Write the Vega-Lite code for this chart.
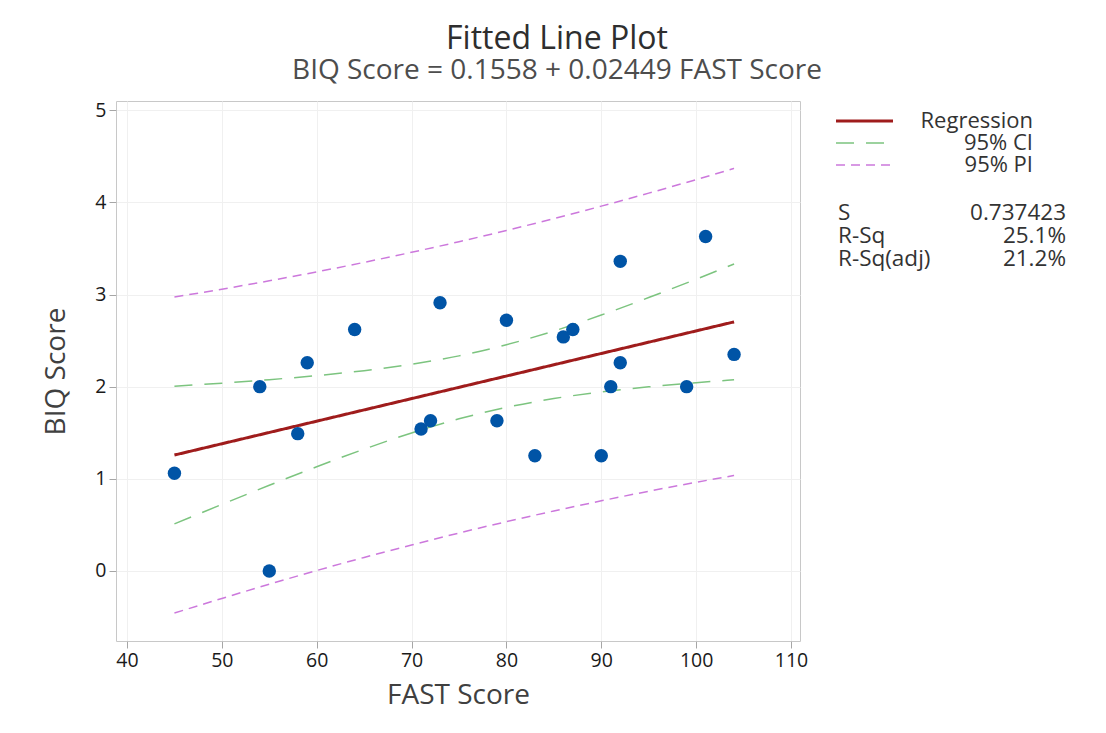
{
  "$schema": "https://vega.github.io/schema/vega-lite/v6.json",
  "width": 684,
  "height": 540,
  "autosize": {"type": "none"},
  "padding": {"left": 116, "top": 101, "right": 306, "bottom": 92},
  "background": "white",
  "title": {
    "text": "Fitted Line Plot",
    "subtitle": "BIQ Score = 0.1558 + 0.02449 FAST Score",
    "anchor": "middle",
    "dx": 99,
    "offset": 14,
    "font": "Open Sans",
    "fontSize": 32,
    "fontWeight": 500,
    "color": "#2e2e2e",
    "subtitleFont": "Open Sans",
    "subtitleFontSize": 28,
    "subtitleColor": "#4d4d4d",
    "subtitlePadding": 1
  },
  "config": {
    "view": {"stroke": "#c8c8c8", "strokeWidth": 1},
    "font": "Open Sans",
    "axis": {
      "domain": false,
      "grid": true,
      "gridColor": "#f0f0f0",
      "tickColor": "#a6a6a6",
      "tickSize": 7,
      "labelFont": "Open Sans",
      "labelFontSize": 19.5,
      "labelColor": "#1a1a1a",
      "labelPadding": 3,
      "titleFont": "Open Sans",
      "titleFontSize": 28,
      "titleFontWeight": "normal",
      "titleColor": "#404040"
    }
  },
  "datasets": {
    "bands": [
      {"series": "95% CI", "band": "upper", "x": 45, "y": 2.005},
      {"series": "95% CI", "band": "upper", "x": 50, "y": 2.038},
      {"series": "95% CI", "band": "upper", "x": 55, "y": 2.076},
      {"series": "95% CI", "band": "upper", "x": 60, "y": 2.12},
      {"series": "95% CI", "band": "upper", "x": 65, "y": 2.174},
      {"series": "95% CI", "band": "upper", "x": 70, "y": 2.243},
      {"series": "95% CI", "band": "upper", "x": 75, "y": 2.334},
      {"series": "95% CI", "band": "upper", "x": 80, "y": 2.455},
      {"series": "95% CI", "band": "upper", "x": 85, "y": 2.604},
      {"series": "95% CI", "band": "upper", "x": 90, "y": 2.777},
      {"series": "95% CI", "band": "upper", "x": 95, "y": 2.967},
      {"series": "95% CI", "band": "upper", "x": 100, "y": 3.166},
      {"series": "95% CI", "band": "upper", "x": 104, "y": 3.331},
      {"series": "95% CI", "band": "lower", "x": 45, "y": 0.511},
      {"series": "95% CI", "band": "lower", "x": 50, "y": 0.722},
      {"series": "95% CI", "band": "lower", "x": 55, "y": 0.93},
      {"series": "95% CI", "band": "lower", "x": 60, "y": 1.131},
      {"series": "95% CI", "band": "lower", "x": 65, "y": 1.322},
      {"series": "95% CI", "band": "lower", "x": 70, "y": 1.498},
      {"series": "95% CI", "band": "lower", "x": 75, "y": 1.651},
      {"series": "95% CI", "band": "lower", "x": 80, "y": 1.775},
      {"series": "95% CI", "band": "lower", "x": 85, "y": 1.871},
      {"series": "95% CI", "band": "lower", "x": 90, "y": 1.943},
      {"series": "95% CI", "band": "lower", "x": 95, "y": 1.998},
      {"series": "95% CI", "band": "lower", "x": 100, "y": 2.043},
      {"series": "95% CI", "band": "lower", "x": 104, "y": 2.074},
      {"series": "95% PI", "band": "upper", "x": 45, "y": 2.973},
      {"series": "95% PI", "band": "upper", "x": 50, "y": 3.058},
      {"series": "95% PI", "band": "upper", "x": 55, "y": 3.149},
      {"series": "95% PI", "band": "upper", "x": 60, "y": 3.246},
      {"series": "95% PI", "band": "upper", "x": 65, "y": 3.349},
      {"series": "95% PI", "band": "upper", "x": 70, "y": 3.458},
      {"series": "95% PI", "band": "upper", "x": 75, "y": 3.573},
      {"series": "95% PI", "band": "upper", "x": 80, "y": 3.695},
      {"series": "95% PI", "band": "upper", "x": 85, "y": 3.824},
      {"series": "95% PI", "band": "upper", "x": 90, "y": 3.959},
      {"series": "95% PI", "band": "upper", "x": 95, "y": 4.1},
      {"series": "95% PI", "band": "upper", "x": 100, "y": 4.247},
      {"series": "95% PI", "band": "upper", "x": 104, "y": 4.369},
      {"series": "95% PI", "band": "lower", "x": 45, "y": -0.457},
      {"series": "95% PI", "band": "lower", "x": 50, "y": -0.298},
      {"series": "95% PI", "band": "lower", "x": 55, "y": -0.144},
      {"series": "95% PI", "band": "lower", "x": 60, "y": 0.005},
      {"series": "95% PI", "band": "lower", "x": 65, "y": 0.147},
      {"series": "95% PI", "band": "lower", "x": 70, "y": 0.282},
      {"series": "95% PI", "band": "lower", "x": 75, "y": 0.412},
      {"series": "95% PI", "band": "lower", "x": 80, "y": 0.535},
      {"series": "95% PI", "band": "lower", "x": 85, "y": 0.651},
      {"series": "95% PI", "band": "lower", "x": 90, "y": 0.761},
      {"series": "95% PI", "band": "lower", "x": 95, "y": 0.865},
      {"series": "95% PI", "band": "lower", "x": 100, "y": 0.962},
      {"series": "95% PI", "band": "lower", "x": 104, "y": 1.036}
    ],
    "fit": [
      {"series": "Regression", "x": 45, "y": 1.258},
      {"series": "Regression", "x": 104, "y": 2.703}
    ],
    "points": [
      {"x": 45, "y": 1.06}, {"x": 54, "y": 2.0}, {"x": 55, "y": 0.0},
      {"x": 58, "y": 1.49}, {"x": 59, "y": 2.26}, {"x": 64, "y": 2.62},
      {"x": 71, "y": 1.54}, {"x": 72, "y": 1.63}, {"x": 73, "y": 2.91},
      {"x": 79, "y": 1.63}, {"x": 80, "y": 2.72}, {"x": 83, "y": 1.25},
      {"x": 86, "y": 2.54}, {"x": 87, "y": 2.62}, {"x": 90, "y": 1.25},
      {"x": 91, "y": 2.0}, {"x": 92, "y": 2.26}, {"x": 92, "y": 3.36},
      {"x": 99, "y": 2.0}, {"x": 101, "y": 3.63}, {"x": 104, "y": 2.35}
    ],
    "stats": [
      {"name": "S", "value": "0.737423"},
      {"name": "R-Sq", "value": "25.1%"},
      {"name": "R-Sq(adj)", "value": "21.2%"}
    ]
  },
  "layer": [
    {
      "data": {"name": "bands"},
      "mark": {"type": "line", "strokeWidth": 1.5, "interpolate": "monotone"},
      "encoding": {
        "x": {"field": "x", "type": "quantitative", "scale": {"domain": [38.84, 110.95], "nice": false, "zero": false}, "axis": {"values": [40, 50, 60, 70, 80, 90, 100, 110], "format": "d", "title": "FAST Score", "titlePadding": 12}},
        "y": {"field": "y", "type": "quantitative", "scale": {"domain": [-0.76, 5.1], "nice": false, "zero": false}, "axis": {"values": [0, 1, 2, 3, 4, 5], "format": "d", "title": "BIQ Score", "titlePadding": 24}},
        "detail": {"field": "band", "type": "nominal"},
        "color": {"field": "series", "type": "nominal", "scale": {"domain": ["Regression", "95% CI", "95% PI"], "range": ["#9f1c1c", "#7cc47f", "#cc78dc"]},
          "legend": {"title": null, "orient": "none", "legendX": 720, "legendY": 10, "symbolType": "stroke", "symbolSize": 3249, "symbolOffset": 17.5, "clipHeight": 20, "rowPadding": 0, "labelAlign": "right", "labelOffset": 157.5, "labelFont": "Open Sans", "labelFontSize": 22, "labelColor": "#333333", "labelLimit": 300, "padding": 0, "symbolStrokeWidth": 1.5,
            "encode": {"symbols": {"update": {"strokeWidth": {"signal": "datum.value === 'Regression' ? 3 : 1.5"}}}}}},
        "strokeDash": {"field": "series", "type": "nominal", "scale": {"domain": ["Regression", "95% CI", "95% PI"], "range": [[1, 0], [18, 12], [9, 6]]},
          "legend": {"title": null, "orient": "none", "legendX": 720, "legendY": 10, "symbolType": "stroke", "symbolSize": 3249, "symbolOffset": 17.5, "clipHeight": 20, "rowPadding": 0, "labelAlign": "right", "labelOffset": 157.5, "labelFont": "Open Sans", "labelFontSize": 22, "labelColor": "#333333", "labelLimit": 300, "padding": 0, "symbolStrokeWidth": 1.5,
            "encode": {"symbols": {"update": {"strokeWidth": {"signal": "datum.value === 'Regression' ? 3 : 1.5"}}}}}}
      }
    },
    {
      "data": {"name": "fit"},
      "mark": {"type": "line", "strokeWidth": 3},
      "encoding": {
        "x": {"field": "x", "type": "quantitative"},
        "y": {"field": "y", "type": "quantitative"},
        "color": {"field": "series", "type": "nominal"},
        "strokeDash": {"field": "series", "type": "nominal"}
      }
    },
    {
      "data": {"name": "points"},
      "mark": {"type": "circle", "size": 180, "opacity": 1, "color": "#0054a6"},
      "encoding": {
        "x": {"field": "x", "type": "quantitative"},
        "y": {"field": "y", "type": "quantitative"}
      }
    },
    {
      "data": {"name": "stats"},
      "mark": {"type": "point", "opacity": 0},
      "encoding": {
        "fill": {"field": "name", "type": "nominal", "scale": {"domain": ["S", "R-Sq", "R-Sq(adj)"]},
          "legend": {"title": null, "orient": "none", "legendX": 699.5, "legendY": 101, "symbolSize": 0, "symbolOpacity": 0, "symbolStrokeWidth": 0, "rowPadding": 0, "labelOffset": 0, "labelFont": "Open Sans", "labelFontSize": 22.5, "labelColor": "#333333", "padding": 0}},
        "stroke": {"field": "value", "type": "nominal", "scale": {"domain": ["0.737423", "25.1%", "21.2%"]},
          "legend": {"title": null, "orient": "none", "legendX": 927.5, "legendY": 101, "symbolSize": 0, "symbolOpacity": 0, "symbolStrokeWidth": 0, "rowPadding": 0, "labelOffset": 0, "labelAlign": "right", "labelFont": "Open Sans", "labelFontSize": 22.5, "labelColor": "#333333", "padding": 0}}
      }
    }
  ]
}
